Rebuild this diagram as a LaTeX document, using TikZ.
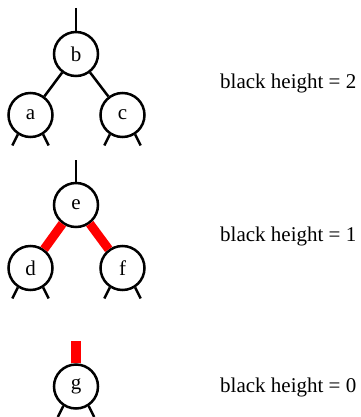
\documentclass[tikz,border=0pt]{standalone}
\usepackage{fontspec}
\setmainfont{Liberation Serif}
\begin{document}
\begin{tikzpicture}[x=1pt,y=-1pt,
  rbnode/.style={circle,draw,line width=2.5pt,minimum size=44pt,inner sep=0pt,font=\fontsize{21}{24}\selectfont},
  blackedge/.style={line width=2.5pt},
  rededge/.style={line width=9pt,red},
  stub/.style={line width=2.5pt},
  label/.style={anchor=base west,inner sep=0pt,font=\fontsize{21}{24}\selectfont}]
\useasboundingbox (0,0) rectangle (360,417);

% tree with black children
\node[rbnode] (b) at (76,54) {b};
\node[rbnode] (a) at (30.5,115) {a};
\node[rbnode] (c) at (122.5,115) {c};
\coordinate (btop) at (76,8);
\draw[blackedge] (btop) -- (b);
\draw[blackedge] (b) -- (a);
\draw[blackedge] (b) -- (c);
\foreach \n in {a,c}{
  \draw[stub] (\n.-123) -- ++(-5.5,11);
  \draw[stub] (\n.-57) -- ++(5.5,11);
}
\node[label] (h2) at (220,89) {black height = 2};

% tree with red children
\node[rbnode] (e) at (76,205) {e};
\node[rbnode] (d) at (30.5,268) {d};
\node[rbnode] (f) at (122.5,268) {f};
\coordinate (etop) at (76,160);
\draw[blackedge] (etop) -- (e);
\draw[rededge] (e) -- (d);
\draw[rededge] (e) -- (f);
\foreach \n in {d,f}{
  \draw[stub] (\n.-123) -- ++(-5.5,11);
  \draw[stub] (\n.-57) -- ++(5.5,11);
}
\node[label] (h1) at (220,241) {black height = 1};

% single node under a red edge
\node[rbnode] (g) at (76,386.5) {g};
\coordinate (gtop) at (76,341);
\draw[line width=10.5pt,red] (gtop) -- (g);
\draw[stub] (g.-123) -- ++(-5.5,11);
\draw[stub] (g.-57) -- ++(5.5,11);
\node[label] (h0) at (220,392) {black height = 0};
\end{tikzpicture}
\end{document}
